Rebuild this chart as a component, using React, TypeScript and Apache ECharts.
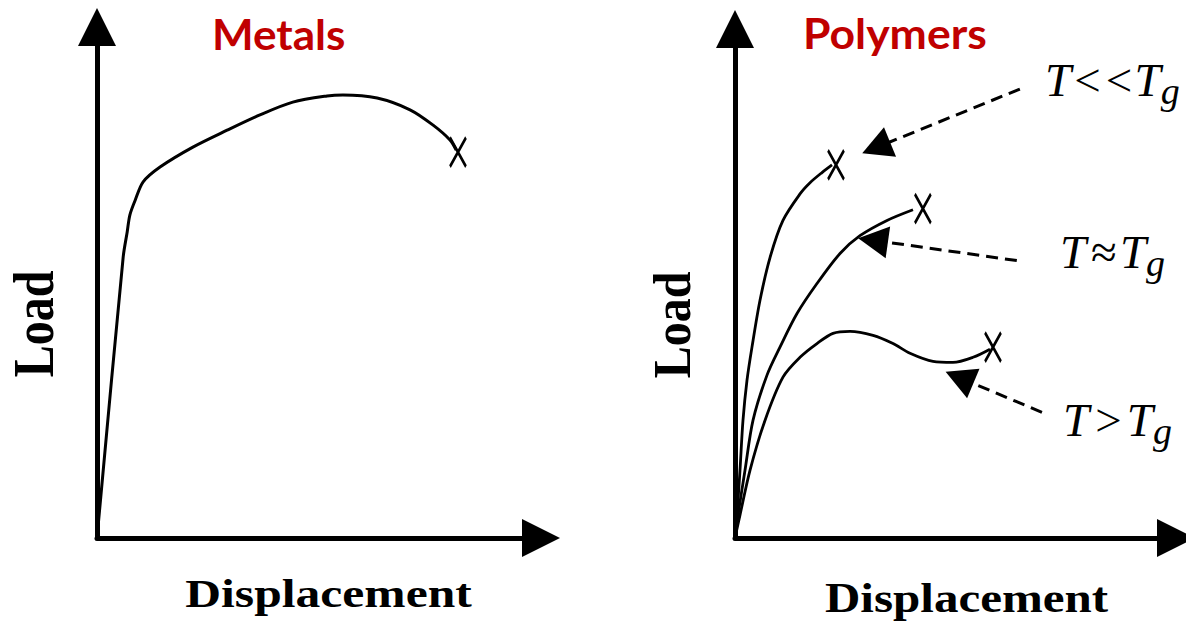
import React, { useEffect, useRef } from "react";
import * as echarts from "echarts";

// Left panel (Metals): load-displacement curve, normalized units 0..100
const metalCurve: number[][] = [
  [0, 0], [5.9, 55.0], [6.8, 59.9], [7.4, 63.2], [8.6, 66.1], [10.4, 69.7],
  [14.2, 72.6], [21.6, 76.5], [29.3, 79.8], [36.7, 82.8], [44.1, 85.3],
  [51.8, 86.5], [55.4, 86.7], [63.1, 86.1], [70.5, 83.8], [75.7, 80.8],
  [79.5, 77.9], [80.9, 75.9],
];
const metalBreak: number[][] = [[81.3, 75.5]];

// Right panel (Polymers)
const polyLow: number[][] = [
  [0, 0], [0.45, 4.5], [1.13, 13.3], [1.81, 23.1], [2.72, 31.0], [3.85, 37.5],
  [5.67, 46.7], [7.94, 55.1], [10.88, 62.4], [14.74, 67.6], [17.01, 69.8],
  [19.73, 71.8], [22.0, 73.3],
];
const polyMid: number[][] = [
  [0, 0], [0.68, 4.5], [2.27, 13.3], [4.08, 23.1], [7.26, 32.0], [10.2, 37.5],
  [14.06, 44.1], [18.59, 50.0], [23.81, 55.9], [28.34, 59.4], [34.47, 62.4],
  [40.36, 64.5],
];
const polyHigh: number[][] = [
  [0, 0], [1.13, 4.5], [3.4, 13.3], [6.8, 23.1], [10.88, 31.6], [14.74, 35.5],
  [18.59, 38.2], [22.22, 40.2], [26.08, 40.6], [31.29, 39.8], [35.83, 38.2],
  [39.68, 36.3], [44.9, 34.7], [49.43, 34.5], [53.97, 35.5], [57.82, 37.1],
];
const polyBreaks: number[][] = [[22.9, 73.3], [42.6, 64.7], [58.5, 37.5]];

// Annotation arrows: [from, to] in right-panel data units
const arrowLines: number[][][] = [
  [[64.6, 88.2], [32.0, 76.7]],
  [[63.9, 54.5], [31.3, 58.5]],
  [[69.6, 24.7], [50.9, 31.5]],
];

const panelTitles = ["Metals", "Polymers"];
const xAxisName = "Displacement";
const yAxisName = "Load";
const tempOps = [["<", "<"], ["≈"], [">"]];

const SERIF = "'Liberation Serif', 'Times New Roman', serif";
const SANS = "Lato, 'Open Sans', sans-serif";
const crossSymbol = "path://M0,0L14,30M14,0L0,30";

function makeAxis(gridIndex: number) {
  return {
    gridIndex,
    type: "value" as const,
    min: 0,
    max: 100,
    axisLine: {
      show: true,
      onZero: false,
      lineStyle: { color: "#000", width: 5 },
      symbol: ["none", "triangle"],
      symbolSize: [38, 38],
    },
    axisTick: { show: false },
    axisLabel: { show: false },
    splitLine: { show: false },
  };
}

function curve(data: number[][], idx: number, width: number) {
  return {
    type: "line" as const,
    xAxisIndex: idx,
    yAxisIndex: idx,
    data,
    symbol: "none",
    showSymbol: false,
    smooth: 0.3,
    silent: true,
    lineStyle: { color: "#000", width },
  };
}

function breaks(data: number[][], idx: number) {
  return {
    type: "scatter" as const,
    xAxisIndex: idx,
    yAxisIndex: idx,
    data,
    symbol: crossSymbol,
    symbolSize: [16, 29],
    silent: true,
    itemStyle: { color: "transparent", borderColor: "#000", borderWidth: 3, opacity: 1 },
  };
}

function titleText(text: string, x: number, scaleX: number) {
  return {
    type: "text",
    x,
    y: 33,
    scaleX,
    style: {
      text,
      fontSize: 42,
      fontWeight: "bold",
      fontFamily: SANS,
      fill: "#C00000",
      align: "left",
      verticalAlign: "middle",
      textAlign: "left",
      textVerticalAlign: "middle",
    },
  };
}

function xName(x: number, y: number, fontSize: number, scaleX: number) {
  return {
    type: "text",
    x,
    y,
    scaleX,
    style: {
      text: xAxisName,
      fontSize,
      fontWeight: "bold",
      fontFamily: SERIF,
      fill: "#000",
      align: "center",
      verticalAlign: "middle",
      textAlign: "center",
      textVerticalAlign: "middle",
    },
  };
}

function yName(x: number, y: number, scaleY: number) {
  return {
    type: "text",
    x,
    y,
    rotation: Math.PI / 2,
    scaleY,
    style: {
      text: yAxisName,
      fontSize: 48,
      fontWeight: "bold",
      fontFamily: SERIF,
      fill: "#000",
      align: "center",
      verticalAlign: "middle",
      textAlign: "center",
      textVerticalAlign: "middle",
    },
  };
}

const tStyle = { fontSize: 47, fontStyle: "italic", fontFamily: SERIF, fill: "#000", verticalAlign: "top" };

function tempLabel(ops: string[], pad: number, x: number, baseline: number) {
  const opTokens = ops.map((o) => `{o|${o}}`).join("");
  return {
    type: "text",
    x,
    y: baseline - 12.6,
    style: {
      text: `{t|T}${opTokens}{t|T}{g|g}`,
      rich: {
        t: { ...tStyle },
        o: { ...tStyle, padding: [0, pad, 0, pad] },
        g: {
          fontSize: 38,
          fontStyle: "italic",
          fontFamily: SERIF,
          fill: "#000",
          verticalAlign: "top",
          padding: [15.6, 0, 0, 0],
        },
      },
      align: "left",
      verticalAlign: "middle",
      textAlign: "left",
      textVerticalAlign: "middle",
    },
  };
}

export default function App() {
  const ref = useRef<HTMLDivElement>(null);
  useEffect(() => {
    document.body.style.margin = "0";
    const chart = echarts.init(ref.current!, null, { renderer: "svg" });
    const option: any = {
      animation: false,
      grid: [
        { left: 97, top: 27, right: 645, bottom: 86, containLabel: false, outerBoundsMode: "none" },
        { left: 735, top: 29, right: 10, bottom: 86, containLabel: false, outerBoundsMode: "none" },
      ],
      xAxis: [makeAxis(0), makeAxis(1)],
      yAxis: [makeAxis(0), makeAxis(1)],
      series: [
        curve(metalCurve, 0, 3),
        breaks(metalBreak, 0),
        {
          ...curve(polyLow, 1, 2.8),
          markLine: {
            silent: true,
            symbol: ["none", "triangle"],
            symbolSize: [32, 30],
            label: { show: false },
            lineStyle: { color: "#000", width: 3, type: [12, 7] },
            emphasis: { disabled: true },
            data: arrowLines.map((l) => [{ coord: l[0] }, { coord: l[1] }]),
          },
        },
        curve(polyMid, 1, 2.8),
        curve(polyHigh, 1, 2.8),
        breaks(polyBreaks, 1),
      ],
      graphic: [
        titleText(panelTitles[0], 212, 1.05),
        titleText(panelTitles[1], 803, 1.06),
        xName(328.5, 607 - 0.3375 * 40, 40, 1.24),
        xName(966.5, 612 - 0.3375 * 43, 43, 1.14),
        yName(34, 324, 1.17),
        yName(672, 325, 1.08),
        tempLabel(tempOps[0], 0, 1045, 96),
        tempLabel(tempOps[1], 4, 1060, 268),
        tempLabel(tempOps[2], 3, 1063, 436),
      ],
    };
    chart.setOption(option);
    return () => chart.dispose();
  }, []);
  return <div ref={ref} style={{ width: 1186, height: 624 }} />;
}
